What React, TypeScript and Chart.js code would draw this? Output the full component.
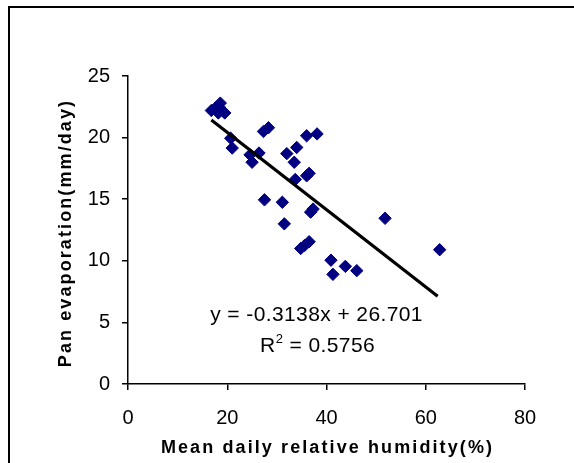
import React, { useEffect, useRef } from 'react';
import { Chart, registerables } from 'chart.js';

Chart.register(...registerables);

const FONT = '"Liberation Sans", Arial, sans-serif';

// Data
const humidity = [
  16.8, 17.6, 18.3, 18.6, 19.5, 18.2,
  20.7, 21.0, 24.6, 25.0, 26.4, 27.3, 28.3,
  27.5, 31.1, 31.5, 32.0, 34.0, 33.5, 33.7,
  36.0, 38.1, 36.0, 36.5, 36.8, 37.3,
  34.8, 35.6, 36.5, 40.9, 41.3, 43.8, 46.1,
  51.8, 62.8,
];
const evaporation = [
  22.2, 22.4, 22.5, 22.8, 22.0, 22.0,
  19.95, 19.15, 18.6, 18.0, 18.75, 20.5, 20.8,
  14.95, 14.75, 13.0, 18.7, 19.2, 18.0, 16.6,
  20.15, 20.3, 16.9, 17.1, 13.95, 14.2,
  11.0, 11.25, 11.55, 10.05, 8.9, 9.55, 9.2,
  13.45, 10.9,
];

const xTickValues = [0, 20, 40, 60, 80];
const yTickValues = [0, 5, 10, 15, 20, 25];

const SLOPE = -0.3138;
const INTERCEPT = 26.701;
const trendX = [16.8, 62.4];

const xTitle = 'Mean daily relative humidity(%)';
const yTitle = 'Pan evaporation(mm/day)';
const equationText = 'y = -0.3138x + 26.701';
const r2Label = 'R';
const r2Sup = '2';
const r2Rest = ' = 0.5756';

const textPlugin = {
  id: 'customText',
  afterDraw(chart: any) {
    const { ctx, chartArea, scales } = chart;
    ctx.save();
    ctx.fillStyle = '#000';
    ctx.textBaseline = 'alphabetic';

    // Axis titles
    ctx.font = `bold 18px ${FONT}`;
    (ctx as any).letterSpacing = '2.1px';
    ctx.textAlign = 'center';
    const cx = (chartArea.left + chartArea.right) / 2;
    ctx.fillText(xTitle, cx + 1, 453);

    ctx.save();
    ctx.translate(71, (chartArea.top + chartArea.bottom) / 2 + 3);
    ctx.rotate(-Math.PI / 2);
    ctx.fillText(yTitle, 0, 0);
    ctx.restore();

    // Trend equation
    const ex = scales.x.getPixelForValue(38);
    ctx.font = `21px ${FONT}`;
    (ctx as any).letterSpacing = '0.4px';
    ctx.textAlign = 'center';
    ctx.fillText(equationText, ex, 321);

    // R^2 text
    ctx.textAlign = 'left';
    ctx.font = `21px ${FONT}`;
    const wR = ctx.measureText(r2Label).width;
    const wRest = ctx.measureText(r2Rest).width;
    ctx.font = `13px ${FONT}`;
    const wS = ctx.measureText(r2Sup).width;
    const total = wR + wS + wRest;
    let sx = ex - total / 2 + 1;
    ctx.font = `21px ${FONT}`;
    ctx.fillText(r2Label, sx, 352);
    sx += wR;
    ctx.font = `13px ${FONT}`;
    ctx.fillText(r2Sup, sx, 343);
    sx += wS;
    ctx.font = `21px ${FONT}`;
    ctx.fillText(r2Rest, sx, 352);

    ctx.restore();
  },
};

export default function App() {
  const canvasRef = useRef<HTMLCanvasElement | null>(null);

  useEffect(() => {
    const canvas = canvasRef.current;
    if (!canvas) return;
    Chart.defaults.font.family = FONT;

    const points = humidity.map((x, i) => ({ x, y: evaporation[i] }));
    const trend = trendX.map((x) => ({ x, y: SLOPE * x + INTERCEPT }));

    const tickCfg = {
      color: '#000',
      font: { size: 20, family: FONT },
      autoSkip: false,
    };

    const chart = new Chart(canvas, {
      type: 'scatter',
      data: {
        datasets: [
          {
            type: 'line',
            data: trend,
            borderColor: '#000',
            borderWidth: 3.2,
            pointRadius: 0,
            fill: false,
            order: 0,
          } as any,
          {
            data: points,
            pointStyle: 'rectRot',
            pointRadius: 6.2,
            backgroundColor: '#000080',
            borderColor: '#000080',
            borderWidth: 1,
            order: 1,
          },
        ],
      },
      options: {
        responsive: false,
        animation: false,
        events: [],
        layout: { padding: { left: 0, top: 76, right: 49, bottom: 0 } },
        plugins: {
          legend: { display: false },
          tooltip: { enabled: false },
          title: { display: false },
        },
        scales: {
          x: {
            type: 'linear',
            position: 'bottom',
            min: 0,
            max: 80,
            afterBuildTicks: (s: any) => {
              s.ticks = xTickValues.map((v) => ({ value: v }));
            },
            ticks: { ...tickCfg, padding: 16 },
            grid: {
              drawOnChartArea: false,
              drawTicks: true,
              tickLength: 6,
              color: '#000',
              lineWidth: 1.5,
            },
            border: { display: true, color: '#000', width: 1.5 },
            afterFit: (s: any) => {
              s.height = 79;
            },
          },
          y: {
            type: 'linear',
            position: 'left',
            min: 0,
            max: 25,
            afterBuildTicks: (s: any) => {
              s.ticks = yTickValues.map((v) => ({ value: v }));
            },
            ticks: { ...tickCfg, padding: 12 },
            grid: {
              drawOnChartArea: false,
              drawTicks: true,
              tickLength: 6,
              color: '#000',
              lineWidth: 1.5,
            },
            border: { display: true, color: '#000', width: 1.5 },
            afterFit: (s: any) => {
              s.width = 128;
            },
          },
        },
      },
      plugins: [textPlugin],
    });

    return () => {
      chart.destroy();
    };
  }, []);

  return (
    <div
      style={{
        position: 'fixed',
        left: 0,
        top: 0,
        width: 574,
        height: 463,
        overflow: 'hidden',
        background: '#fff',
      }}
    >
      <div
        style={{
          position: 'absolute',
          left: 8,
          top: 6,
          width: 700,
          height: 600,
          borderTop: '2px solid #000',
          borderLeft: '2px solid #000',
        }}
      />
      <canvas
        ref={canvasRef}
        width={574}
        height={463}
        style={{ position: 'absolute', left: 0, top: 0, width: 574, height: 463 }}
      />
    </div>
  );
}
